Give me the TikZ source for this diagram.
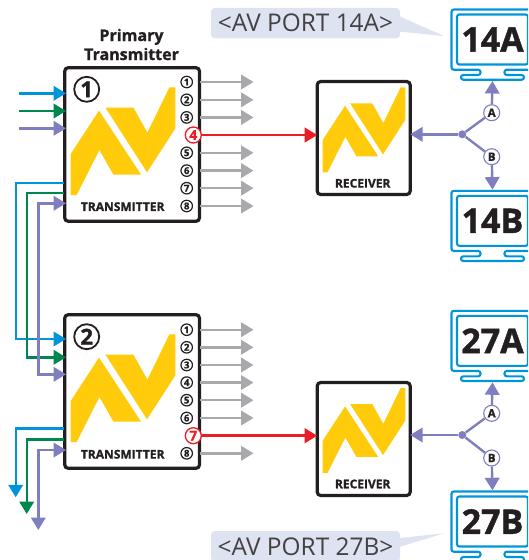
\documentclass[tikz,border=0pt]{standalone}
\usepackage{fontspec}
\setmainfont{Open Sans}
\newfontfamily\heavyfont[BoldFeatures={FakeBold=1.2}]{Open Sans}
\usetikzlibrary{arrows.meta}
\definecolor{inkblack}{HTML}{231F20}
\definecolor{avyellow}{HTML}{FFCB0B}
\definecolor{avblue}{HTML}{0095DA}
\definecolor{avgreen}{HTML}{00874F}
\definecolor{avpurple}{HTML}{7F7FC0}
\definecolor{avgrey}{HTML}{A7A9AC}
\definecolor{avred}{HTML}{ED1C24}
\definecolor{tagfill}{HTML}{DDE3F1}
\tikzset{
    pics/avlogo/.style={code={
        \fill[avyellow] (28.3,23.3) -- (70.3,87.3) -- (42.7,87.3) -- (28.7,62.7) -- (6,107.7) -- (0,107.7) -- (0,66.7) -- cycle;
        \fill[avyellow] (34.7,20.3) -- (62.7,20.3) -- (76.7,45.3) -- (98.7,0) -- (104.7,0) -- (104.7,41) -- (76.3,85) -- cycle;
    }},
    pics/monitor/.style={code={
        \draw[avblue, line width=2.1pt, rounded corners=2.3pt] (-12,60.2) -- (-41,60.2) -- (-41,0) -- (41,0) -- (41,60.2) -- (12,60.2) -- (12,65.5) -- (31.5,65.5) -- (31.5,70.2) -- (-31.5,70.2) -- (-31.5,65.5) -- (-12,65.5) -- cycle;
        \coordinate (-foot) at (0,71.5);
        \coordinate (-top) at (0,-1.2);
    }}
}
\begin{document}
\begin{tikzpicture}[
    x=1pt, y=-1pt,
    txbox/.style={rectangle, draw=inkblack, fill=white, line width=3.2pt, rounded corners=3.5pt, outer sep=0pt, minimum width=134.8pt, minimum height=153.6pt},
    rxbox/.style={rectangle, draw=inkblack, fill=white, line width=3.2pt, rounded corners=3.5pt, outer sep=0pt, minimum width=93pt, minimum height=113pt},
    unit/.style={circle, draw=inkblack, line width=1.8pt, minimum size=25pt, inner sep=0pt, text=inkblack, font=\fontsize{22}{22}\heavyfont\bfseries},
    port/.style={circle, draw=inkblack, line width=1.2pt, minimum size=11.5pt, inner sep=0pt, text=inkblack, font=\fontsize{9.5}{9.5}\heavyfont\bfseries},
    redport/.style={circle, draw=avred, fill=white, line width=1.3pt, minimum size=16pt, inner sep=0pt, text=avred, font=\fontsize{13.5}{13.5}\heavyfont\bfseries},
    branch/.style={circle, draw=avpurple, fill=white, line width=1.1pt, minimum size=16pt, inner sep=0pt, text=inkblack, font=\fontsize{11.5}{11.5}\heavyfont\bfseries},
    joint/.style={circle, fill=avpurple, minimum size=8pt, inner sep=0pt},
    boxlabel/.style={inner sep=0pt, text=inkblack, font=\fontsize{12}{12}\heavyfont\bfseries},
    screen/.style={rectangle, draw=avblue, line width=2.1pt, rounded corners=2.3pt, minimum width=71pt, minimum height=50pt, inner sep=0pt, text=inkblack, font=\fontsize{34}{34}\heavyfont\bfseries},
    tag/.style={rectangle, fill=tagfill, rounded corners=4pt, minimum width=189pt, inner sep=0pt, text=inkblack!85, font=\fontsize{24.4}{24.4}\selectfont},
    arrow/.style={->, line width=2.4pt, >={Triangle[length=12.5pt,width=14.5pt]}},
    both/.style={<->, line width=2.4pt, >={Triangle[length=12.5pt,width=14.5pt]}},
    wire/.style={line width=2.4pt}
]
\clip (0,0) rectangle (528,560);

% Tags
\node[tag, minimum height=30.5pt] (tag14) at (305.5,23.2) {<AV PORT 14A>};
\node[tag, minimum height=31pt] (tag27) at (305.5,546.5) {<AV PORT 27B>};
\coordinate (tip14) at (444,36);
\coordinate (tip27) at (444,533.3);
\fill[tagfill] (tag14.east |- 0,16.7) -- (tip14) -- (tag14.east |- 0,31.7) -- cycle;
\fill[tagfill] (tag27.east |- 0,538) -- (tip27) -- (tag27.east |- 0,546.7) -- cycle;

% Boxes
\node[txbox] (tx1) at (132.1,144.5) {};
\node[txbox] (tx2) at (132.1,391.5) {};
\node[rxbox] (rx1) at (363.7,138) {};
\node[rxbox] (rx2) at (363.7,439) {};

% Logos
\pic at (70.7,87.3) {avlogo};
\pic at (70.7,334.3) {avlogo};
\pic[scale=0.79] at (322.7,87.3) {avlogo};
\pic[scale=0.79] at (322.7,388) {avlogo};

% Labels
\node[align=center, inner sep=0pt, text=inkblack, font=\fontsize{16}{19}\heavyfont\bfseries] (title) at (131.5,44.5) {Primary\\Transmitter};
\node[boxlabel] (txl1) at (122.7,206.7) {TRANSMITTER};
\node[boxlabel] (txl2) at (122.7,454.3) {TRANSMITTER};
\node[boxlabel] (rxl1) at (362.7,183.3) {RECEIVER};
\node[boxlabel] (rxl2) at (362.7,484) {RECEIVER};
\node[unit] (u1) at (86.7,89.3) {1};
\node[unit] (u2) at (86.7,336.7) {2};

% Ports, first transmitter
\node[port] (a1) at (186.7,82) {1};
\node[port] (a2) at (186.7,99.8) {2};
\node[port] (a3) at (186.7,117.4) {3};
\node[redport] (a4) at (193.3,135) {4};
\node[port] (a5) at (186.7,152.8) {5};
\node[port] (a6) at (186.7,170.6) {6};
\node[port] (a7) at (186.7,188.2) {7};
\node[port] (a8) at (186.7,206) {8};

% Ports, second transmitter
\node[port] (b1) at (186.7,329.7) {1};
\node[port] (b2) at (186.7,347.3) {2};
\node[port] (b3) at (186.7,365) {3};
\node[port] (b4) at (186.7,382.6) {4};
\node[port] (b5) at (186.7,400.2) {5};
\node[port] (b6) at (186.7,418) {6};
\node[redport] (b7) at (193.3,435.7) {7};
\node[port] (b8) at (186.7,453.3) {8};

% Free ends of the outputs
\coordinate (ea1) at (253.5,82);
\coordinate (ea2) at (253.5,99.8);
\coordinate (ea3) at (253.5,117.4);
\coordinate (ea5) at (253.5,152.8);
\coordinate (ea6) at (253.5,170.6);
\coordinate (ea7) at (253.5,188.2);
\coordinate (ea8) at (253.5,206);
\coordinate (eb1) at (253.5,329.7);
\coordinate (eb2) at (253.5,347.3);
\coordinate (eb3) at (253.5,365);
\coordinate (eb4) at (253.5,382.6);
\coordinate (eb5) at (253.5,400.2);
\coordinate (eb6) at (253.5,418);
\coordinate (eb8) at (253.5,453.3);

% Grey outputs
\draw[arrow, avgrey] (a1 -| tx1.east) -- (ea1);
\draw[arrow, avgrey] (a2 -| tx1.east) -- (ea2);
\draw[arrow, avgrey] (a3 -| tx1.east) -- (ea3);
\draw[arrow, avgrey] (a5 -| tx1.east) -- (ea5);
\draw[arrow, avgrey] (a6 -| tx1.east) -- (ea6);
\draw[arrow, avgrey] (a7 -| tx1.east) -- (ea7);
\draw[arrow, avgrey] (a8 -| tx1.east) -- (ea8);
\draw[arrow, avgrey] (b1 -| tx2.east) -- (eb1);
\draw[arrow, avgrey] (b2 -| tx2.east) -- (eb2);
\draw[arrow, avgrey] (b3 -| tx2.east) -- (eb3);
\draw[arrow, avgrey] (b4 -| tx2.east) -- (eb4);
\draw[arrow, avgrey] (b5 -| tx2.east) -- (eb5);
\draw[arrow, avgrey] (b6 -| tx2.east) -- (eb6);
\draw[arrow, avgrey] (b8 -| tx2.east) -- (eb8);

% Red links
\draw[arrow, avred, line width=2.6pt] (a4) -- (a4 -| rx1.west);
\draw[arrow, avred, line width=2.6pt] (b7) -- (b7 -| rx2.west);

% Inputs of the first transmitter
\coordinate (sb) at (19,93.3);
\coordinate (sg) at (19,111);
\coordinate (sp) at (19,128.3);
\coordinate (ib1) at (66,93.3);
\coordinate (ig1) at (66,111);
\coordinate (ip1) at (66,128.3);
\draw[arrow, avblue] (sb) -- (ib1);
\draw[arrow, avgreen] (sg) -- (ig1);
\draw[arrow, avpurple] (sp) -- (ip1);

% Links between the transmitters
\coordinate (ob1) at (64,182.7);
\coordinate (og1) at (64,193);
\coordinate (op1) at (66,203.3);
\coordinate (ib2) at (66,339);
\coordinate (ig2) at (66,357.3);
\coordinate (ip2) at (66,374.3);
\draw[arrow, avblue] (ob1) -- (15.7,182.7) -- (15.7,339) -- (ib2);
\draw[arrow, avgreen] (og1) -- (26.7,193) -- (26.7,357.3) -- (ig2);
\draw[both, avpurple] (op1) -- (38.3,203.3) -- (38.3,374.3) -- (ip2);

% Outputs of the second transmitter
\coordinate (ob2) at (64,428.3);
\coordinate (og2) at (64,439.3);
\coordinate (op2) at (66,450);
\coordinate (db) at (15.7,497.3);
\coordinate (dg) at (26.7,514);
\coordinate (dp) at (38.3,530);
\draw[arrow, avblue] (ob2) -- (15.7,428.3) -- (db);
\draw[arrow, avgreen] (og2) -- (26.7,439.3) -- (dg);
\draw[both, avpurple] (op2) -- (38.3,450) -- (dp);

% Monitors
\pic (m14a) at (492.5,9.5) {monitor};
\pic (m14b) at (492.5,190.8) {monitor};
\pic (m27a) at (492.5,310.8) {monitor};
\pic (m27b) at (492.5,491.5) {monitor};
\node[screen] (s14a) at (492.5,39.5) {14A};
\node[screen] (s14b) at (492.5,220.8) {14B};
\node[screen] (s27a) at (492.5,340.8) {27A};
\node[screen] (s27b) at (492.5,521.5) {27B};

% Splits
\node[joint] (j1) at (462.3,134.3) {};
\node[joint] (j2) at (462.3,435) {};
\node[branch] (ca1) at (491.7,112.7) {A};
\node[branch] (cb1) at (491.7,156.7) {B};
\node[branch] (ca2) at (491.7,413.3) {A};
\node[branch] (cb2) at (491.7,458) {B};
\draw[arrow, avpurple] (j1) -- (j1 -| rx1.east);
\draw[arrow, avpurple] (j2) -- (j2 -| rx2.east);
\draw[wire, avpurple] (j1) -- (ca1);
\draw[wire, avpurple] (j1) -- (cb1);
\draw[wire, avpurple] (j2) -- (ca2);
\draw[wire, avpurple] (j2) -- (cb2);
\draw[arrow, avpurple] (ca1) -- (m14a-foot);
\draw[arrow, avpurple] (cb1) -- (m14b-top);
\draw[arrow, avpurple] (ca2) -- (m27a-foot);
\draw[arrow, avpurple] (cb2) -- (m27b-top);

\end{tikzpicture}
\end{document}
